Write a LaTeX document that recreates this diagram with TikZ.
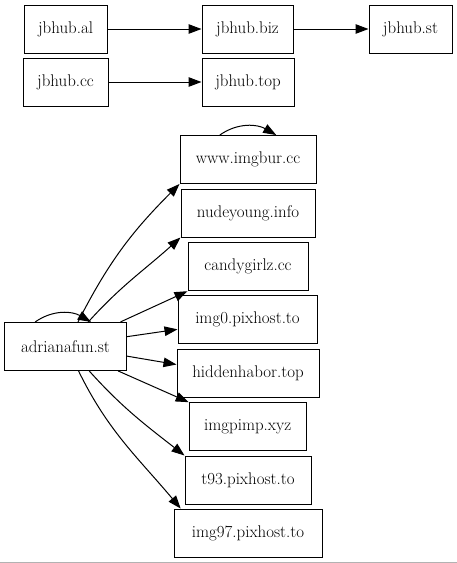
\documentclass[tikz,border=0pt]{standalone}
\usetikzlibrary{arrows.meta}

\begin{document}
\begin{tikzpicture}[x=1pt,y=1pt,
  site/.style={draw,rectangle,minimum height=48pt,inner sep=0pt,line width=1pt,font=\fontsize{16.9}{20}\selectfont},
  link/.style={-{Triangle[length=13pt,width=9.5pt]},line width=1pt}]
                \useasboundingbox (0,0) rectangle (457,-563);
                \draw[gray!60,line width=1pt] (0,-562.5)--(457,-562.5);
                % jbhub group
                \node[site,minimum width=83pt] (al) at (65.5,-29) {jbhub.al};
                \node[site,minimum width=91pt] (biz) at (247.5,-29) {jbhub.biz};
                \node[site,minimum width=83pt] (st) at (410.5,-29) {jbhub.st};
                \node[site,minimum width=85pt] (cc) at (65.5,-82) {jbhub.cc};
                \node[site,minimum width=92pt] (top) at (248,-82) {jbhub.top};
                \draw[link] (al)--(biz);
                \draw[link] (biz)--(st);
                \draw[link] (cc)--(top);
                % adrianafun group
                \node[site,minimum width=122pt] (adriana) at (65.5,-346.4) {adrianafun.st};
                \node[site,minimum width=136pt] (imgbur) at (248,-159.5) {www.imgbur.cc};
                \node[site,minimum width=134pt] (nude) at (248,-213) {nudeyoung.info};
                \node[site,minimum width=120pt] (candy) at (248,-266.7) {candygirlz.cc};
                \node[site,minimum width=139pt] (pix0) at (247.5,-319.5) {img0.pixhost.to};
                \node[site,minimum width=142pt] (hidden) at (248,-373.3) {hiddenhabor.top};
                \node[site,minimum width=117pt] (pimp) at (247.7,-426.7) {imgpimp.xyz};
                \node[site,minimum width=126pt] (pix93) at (248,-480) {t93.pixhost.to};
                \node[site,minimum width=148pt] (pix97) at (248,-533) {img97.pixhost.to};
                \draw[link] (imgbur.139) to[out=35,in=150] (imgbur.41);
                \draw[link] (adriana.141) to[out=35,in=150] (adriana.44);
                \draw[link] (adriana.63) to[out=63,in=-135] (imgbur.south west);
                \draw[link] (adriana.47) to[out=48,in=-138] (nude.south west);
                \draw[link] (adriana.24)--(candy.south west);
                \draw[link] (adriana.9)--(pix0.188);
                \draw[link] (adriana.351)--(hidden.173);
                \draw[link] (adriana.335)--(pimp.north west);
                \draw[link] (adriana.314) to[out=-48,in=142] (pix93.north west);
                \draw[link] (adriana.298) to[out=-64,in=130] (pix97.160);
\end{tikzpicture}
\end{document}
